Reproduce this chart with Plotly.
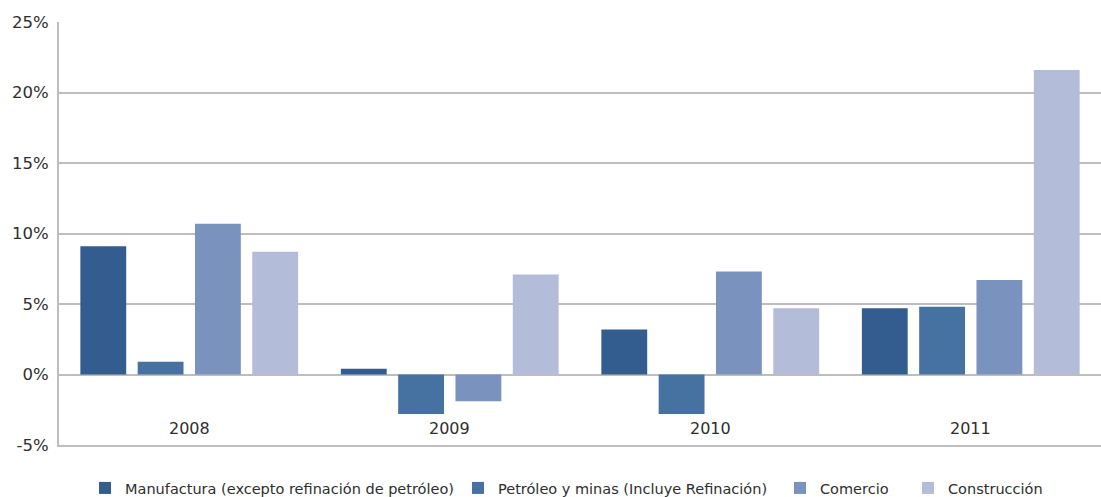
import plotly.graph_objects as go

# Annual growth by sector (%)
years = ["2008", "2009", "2010", "2011"]
manufactura = [9.1, 0.4, 3.2, 4.7]
petroleo = [0.9, -2.8, -2.8, 4.8]
comercio = [10.7, -1.9, 7.3, 6.7]
construccion = [8.7, 7.1, 4.7, 21.6]

series_names = [
    "Manufactura (excepto refinación de petróleo)",
    "Petróleo y minas (Incluye Refinación)",
    "Comercio",
    "Construcción",
]
series_values = [manufactura, petroleo, comercio, construccion]
series_colors = ["#345D8F", "#4672A2", "#7A93BE", "#B3BCD9"]

y_ticks = [-5, 0, 5, 10, 15, 20, 25]
y_tick_text = ["-5%", "0%", "5%", "10%", "15%", "20%", "25%"]

W, H = 1101, 497
M_L, M_R, M_T, M_B = 59, 0, 22, 52

# left pixel edge of each legend entry (one legend per series)
legend_left_px = [85, 458, 780, 908]

fig = go.Figure()
legend_ids = ["legend", "legend2", "legend3", "legend4"]
for name, vals, col, lid in zip(series_names, series_values, series_colors, legend_ids):
    fig.add_trace(go.Bar(
        x=years, y=vals, name=name,
        marker=dict(color=col, line=dict(width=0)),
        legend=lid, showlegend=True,
    ))

font_family = "DejaVu Sans"
text_color = "#2E2E2E"
grid_color = "#BEBEBE"

layout_legends = {}
for lid, px in zip(legend_ids, legend_left_px):
    layout_legends[lid] = dict(
        x=px / W, xref="container", xanchor="left",
        y=1 - 488 / H, yref="container", yanchor="middle",
        orientation="h",
        font=dict(family=font_family, size=14.5, color=text_color),
        bgcolor="rgba(0,0,0,0)", borderwidth=0,
    )

fig.update_layout(
    width=W, height=H,
    margin=dict(l=M_L, r=M_R, t=M_T, b=M_B, pad=0),
    paper_bgcolor="white", plot_bgcolor="white",
    barmode="group", bargap=0.12, bargroupgap=0.2,
    font=dict(family=font_family, size=16, color=text_color),
    showlegend=True,
    **layout_legends,
)

# category labels sit inside the plot, just above the bottom axis line
# (positioned by category index on the category axis)
for i, yr in enumerate(years):
    fig.add_annotation(
        x=i, y=-3.85, xref="x", yref="y",
        text=yr, showarrow=False,
        font=dict(family=font_family, size=16, color=text_color),
    )

fig.update_xaxes(
    type="category",
    range=[-0.5, len(years) - 0.5],
    showgrid=False,
    showline=True, linecolor=grid_color, linewidth=2,
    ticks="", showticklabels=False,
)

fig.update_yaxes(
    range=[-5, 25],
    tickvals=y_ticks, ticktext=y_tick_text,
    showgrid=True, gridcolor=grid_color, gridwidth=2,
    zeroline=True, zerolinecolor=grid_color, zerolinewidth=2,
    showline=True, linecolor=grid_color, linewidth=2,
    ticks="", ticklabelstandoff=5,
    tickfont=dict(family=font_family, size=16.5, color=text_color),
)

fig.write_html("out.html")
